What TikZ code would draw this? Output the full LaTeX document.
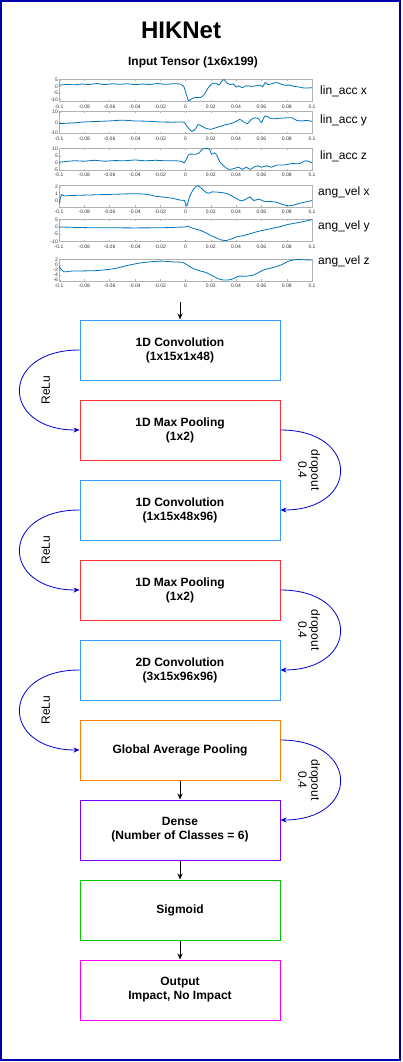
\documentclass[tikz,border=0pt]{standalone}
\usepackage{fontspec}
\setmainfont{Liberation Sans}
\usetikzlibrary{arrows.meta}

\definecolor{convcol}{RGB}{51,153,255}
\definecolor{poolcol}{RGB}{255,51,51}
\definecolor{gapcol}{RGB}{255,128,0}
\definecolor{densecol}{RGB}{127,0,255}
\definecolor{sigcol}{RGB}{0,204,0}
\definecolor{outcol}{RGB}{255,0,255}
\definecolor{linkcol}{RGB}{0,0,204}
\definecolor{framecol}{RGB}{0,0,170}
\definecolor{plotcol}{RGB}{0,114,189}

% #1 top, #2 ymin, #3 ymax, #4 y ticks, #5 data (x in percent, y in data units)
\newcommand{\sigplot}[5]{%
  \pgfmathsetmacro{\sy}{22/(#3-(#2))}
  \begin{scope}[shift={(59,#1+22+(#2)*\sy)},x=2.53pt,y=\sy pt]
    \draw[plotframe] (0,#2) rectangle (100,#3);
    \foreach \v [count=\i from 0] in {-0.1,-0.08,-0.06,-0.04,-0.02,0,0.02,0.04,0.06,0.08,0.1} {
      \draw[plotframe] (10*\i,#2) -- ++(0pt,1.5pt);
      \draw[plotframe] (10*\i,#3) -- ++(0pt,-1.5pt);
      \node[ticklab] at ([yshift=-5pt]10*\i,#2) {\v};
    }
    \foreach \t in {#4} {
      \draw[plotframe] (0,\t) -- ++(1.5pt,0pt);
      \node[ticklab,anchor=east] at ([xshift=-1pt]0,\t) {\t};
    }
    \draw[sig] plot[smooth,tension=0.4] coordinates {#5};
  \end{scope}}

\begin{document}
\begin{tikzpicture}
  [x=1pt,y=-1pt,
   layer/.style={draw,rectangle,line width=1pt,minimum width=200pt,minimum height=60pt,
     align=center,font=\bfseries\fontsize{12}{14}\selectfont}]

  \tikzstyle{plotframe} = [gray!60, line width=0.3pt]
  \tikzstyle{ticklab} = [black!80, inner sep=0pt, font=\fontsize{5}{6}\selectfont]
  \tikzstyle{sig} = [plotcol, line width=0.8pt]
  \tikzstyle{siglab} = [anchor=base west, inner sep=0pt, font=\fontsize{12}{14}\selectfont]
  \tikzstyle{relu} = [out=180, in=180, looseness=2.55]
  \tikzstyle{drop} = [out=0, in=0, looseness=2.55]
  \tikzstyle{curvelab} = [text=black, align=center, inner sep=0pt, font=\fontsize{12}{13}\selectfont]

  \useasboundingbox (0,0) rectangle (402,1062);
  \draw[framecol, line width=1.5pt] (1,1) rectangle (400,1060);

  \node[anchor=base, inner sep=0pt, font=\bfseries\fontsize{24}{28}\selectfont] (title) at (181,39) {HIKNet};
  \node[anchor=base, inner sep=0pt, font=\bfseries\fontsize{12}{14}\selectfont] (tensorlab) at (193,65.3) {Input Tensor (1x6x199)};

  % input signals
  \sigplot{76}{-11.6}{5.4}{5,0,-5,-10}{(0,1)(3,1.5)(6,1.2)(9,1.8)(12,1.5)(15,2.2)(18,1.4)(21,2)(24,1.6)(27,2)(30,1.4)(33,1.8)(36,1.5)(39,2.2)(42,1.6)(45,2)(48,1.8)(49.3,0)(50.3,-6)(51.2,-11)(52.5,-9.5)(54,-8.5)(56,-8.5)(57.5,-6)(59,-1)(60.5,2)(62,2.5)(63.2,1)(64.5,4.5)(65.3,5.3)(66.3,2.5)(67.5,1.5)(69,1.8)(70,-0.5)(71,0.5)(72.5,-1)(74,0.5)(76,0)(78,0.5)(79.5,1)(80.5,-0.3)(81.5,3)(82.5,1.5)(84,2)(86,3)(87.5,2)(89,1)(91,1)(93,0)(95,-0.5)(97,-1.3)(100,-1)}
  \sigplot{111}{-10.5}{10.5}{10,0,-10}{(0,-1)(5,-0.5)(10,0.5)(15,1)(20,1.5)(25,2.2)(30,1.5)(35,1.2)(40,0.5)(45,0.3)(48,0.5)(49.5,0)(51,-5)(52.5,-8.5)(54,-6)(55,-2)(56.5,-3.5)(58,-5.5)(60,-6.5)(62,-5)(64,-3.5)(66,-2)(68,-1)(70,1)(71.5,3)(73,0.5)(74.5,-1)(76,3)(77.5,4.5)(79,3.5)(80,0)(81.3,6)(82.5,5.5)(84,3.5)(87,4)(90,4.5)(92,4.5)(94,2)(96,1.5)(98,2)(100,1)}
  \sigplot{146}{-5.1}{10.2}{10,5,0,-5}{(0,0.5)(3,1)(6,1.5)(10,1.2)(14,1.8)(18,1.2)(22,1.6)(26,1.5)(30,2)(34,1.5)(38,1.8)(42,1.5)(46,1.5)(48.5,1)(49.5,0)(50.5,3)(51.5,6)(54,6)(55.5,7)(56.5,9.5)(58.5,10)(59.5,9.5)(60.3,6)(61.5,7)(62.5,5)(63.5,1)(65,-2)(67,-4.5)(69,-4)(71,-3)(72.5,-4.5)(74,-3)(75.5,-4.5)(77,-3)(78.5,-2)(80,-3)(82,-2)(84,-3)(86,-1.5)(89,-1.5)(92,-0.5)(95,-0.5)(97.5,1.5)(100,0)}
  \sigplot{180}{-0.75}{2.3}{2,1,0}{(0,-0.3)(1,0.9)(2,0.75)(5,0.8)(10,0.85)(15,0.9)(20,0.95)(25,1)(30,1.05)(35,0.95)(38,0.7)(42,0.55)(45,0.4)(48,0.15)(49.5,0.1)(50.5,-0.65)(51.5,0.5)(53,1.6)(54.5,2.15)(56,1.9)(57.5,1.4)(59,1.1)(60.5,1.3)(63,1.25)(66,1.1)(68,0.8)(70,0.4)(72,0.05)(74,0.3)(75.5,0.6)(77,0.1)(79,0.3)(81,0)(84,-0.05)(86,-0.15)(88,-0.4)(90,-0.6)(92,-0.6)(95,-0.3)(100,0.1)}
  \sigplot{215}{-10.1}{5.2}{5,0,-5,-10}{(0,0)(10,-0.5)(20,-0.6)(30,-0.7)(40,-0.6)(46,-0.3)(50,0)(51,0.6)(52,-0.5)(54,-1.5)(56,-2.5)(58,-4)(60,-6)(62,-7.5)(64,-9)(66,-9.5)(68,-8.5)(70,-7)(73,-6)(76,-4.5)(79,-3)(83,-1.5)(87,0)(90,1.5)(93,2.5)(96,3.5)(100,5)}
  \sigplot{249}{-6.3}{2.3}{2,0,-2,-4,-6}{(0,-0.7)(2,-2.8)(5,-2.5)(15,-2.3)(22,-1.5)(27,-0.3)(33,0.8)(40,1.4)(45,1.1)(49,0.9)(50.5,0)(53,-1.5)(56,-2.5)(58,-3)(60,-4)(63,-5.5)(65,-6)(68,-5.8)(71,-4.5)(74,-4.5)(77,-4)(79,-3)(81,-2)(85,-1)(88,0)(91,1.5)(94,2)(100,1.8)}

  \node[siglab] (lab1) at (320,94.6) {lin\_acc x};
  \node[siglab] (lab2) at (320,123.6) {lin\_acc y};
  \node[siglab] (lab3) at (320,159.8) {lin\_acc z};
  \node[siglab] (lab4) at (318,195.3) {ang\_vel x};
  \node[siglab] (lab5) at (318,229.6) {ang\_vel y};
  \node[siglab] (lab6) at (318,264.6) {ang\_vel z};

  \coordinate (tensor) at (180,302);

  % network layers
  \node[layer, draw=convcol]  (conv1) at (180,350) {1D Convolution\\(1x15x1x48)};
  \node[layer, draw=poolcol]  (pool1) at (180,430) {1D Max Pooling\\(1x2)};
  \node[layer, draw=convcol]  (conv2) at (180,510) {1D Convolution\\(1x15x48x96)};
  \node[layer, draw=poolcol]  (pool2) at (180,590) {1D Max Pooling\\(1x2)};
  \node[layer, draw=convcol]  (conv3) at (180,670) {2D Convolution\\(3x15x96x96)};
  \node[layer, draw=gapcol]   (gap)   at (180,750) {Global Average Pooling};
  \node[layer, draw=densecol] (dense) at (180,830) {Dense\\(Number of Classes = 6)};
  \node[layer, draw=sigcol]   (sigm)  at (180,910) {Sigmoid};
  \node[layer, draw=outcol]   (output) at (180,990) {Output\\Impact, No Impact};

  \path[->, >={Stealth[length=6pt,width=5pt]}, line width=1pt]
        (tensor) edge (conv1)
        (gap)    edge (dense)
        (dense)  edge (sigm)
        (sigm)   edge (output);

  \path[->, >={Stealth[length=6pt,width=5pt]}, linkcol, line width=0.8pt]
        (conv1.west) edge [relu] node[curvelab, midway, xshift=26pt, rotate=90] {ReLu} (pool1.west)
        (pool1.east) edge [drop] node[curvelab, midway, xshift=-31pt, rotate=-90] {dropout\\0.4} (conv2.east)
        (conv2.west) edge [relu] node[curvelab, midway, xshift=26pt, rotate=90] {ReLu} (pool2.west)
        (pool2.east) edge [drop] node[curvelab, midway, xshift=-31pt, rotate=-90] {dropout\\0.4} (conv3.east)
        (conv3.west) edge [relu] node[curvelab, midway, xshift=26pt, rotate=90] {ReLu} (gap.west)
        ([yshift=10pt]gap.east) edge [drop] node[curvelab, midway, xshift=-31pt, rotate=-90] {dropout\\0.4} ([yshift=10pt]dense.east);
\end{tikzpicture}
\end{document}
